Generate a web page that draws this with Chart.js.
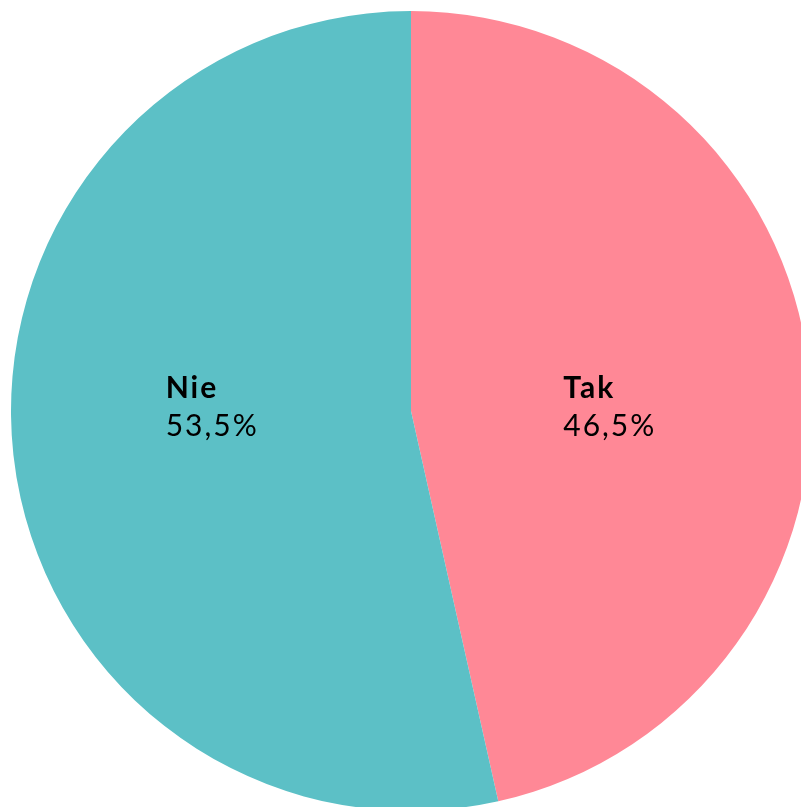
<!DOCTYPE html>
<html>
<head>
<meta charset="utf-8">
<script src="https://cdn.jsdelivr.net/npm/chart.js@4"></script>
<style>
  html, body { margin: 0; padding: 0; background: #fff; overflow: hidden; width: 801px; height: 807px; }
  #wrap { width: 801px; height: 807px; overflow: hidden; position: relative; }
  canvas { position: absolute; left: 0; top: 0; }
</style>
</head>
<body>
<div id="wrap"><canvas id="pieChart" width="822" height="822"></canvas></div>
<script>
const labels = ['Tak', 'Nie'];
const values = [46.5, 53.5];
const colors = ['#FF8896', '#5CC0C6'];

// draw "Tak / 46,5%" style labels inside each slice
const sliceLabels = {
    id: 'sliceLabels',
    afterDraw(chart) {
        const ctx = chart.ctx;
        const meta = chart.getDatasetMeta(0);
        meta.data.forEach((arc, i) => {
            const mid = (arc.startAngle + arc.endAngle) / 2;
            const r = arc.outerRadius * 0.5;
            const cx = arc.x + Math.cos(mid) * r;
            const pct = values[i].toFixed(1).replace('.', ',') + '%';
            ctx.save();
            ctx.fillStyle = '#000';
            ctx.textBaseline = 'alphabetic';
            ctx.textAlign = 'left';
            ctx.letterSpacing = '2px';
            ctx.font = 'bold 30px Lato';
            const w1 = ctx.measureText(labels[i]).width;
            ctx.font = '30px Lato';
            const w2 = ctx.measureText(pct).width;
            const left = cx - Math.max(w1, w2) / 2;
            ctx.font = 'bold 30px Lato';
            ctx.fillText(labels[i], left, arc.y - 13);
            ctx.font = '30px Lato';
            ctx.fillText(pct, left, arc.y + 25);
            ctx.restore();
        });
    }
};

const ctx = document.getElementById('pieChart').getContext('2d');
const chart = new Chart(ctx, {
    type: 'pie',
    data: {
        labels: labels,
        datasets: [{
            data: values,
            backgroundColor: colors,
            borderWidth: 0
        }]
    },
    options: {
        responsive: false,
        animation: false,
        layout: { padding: 11 },
        plugins: {
            legend: { display: false },
            tooltip: { enabled: false }
        }
    },
    plugins: [sliceLabels]
});
</script>
</body>
</html>
